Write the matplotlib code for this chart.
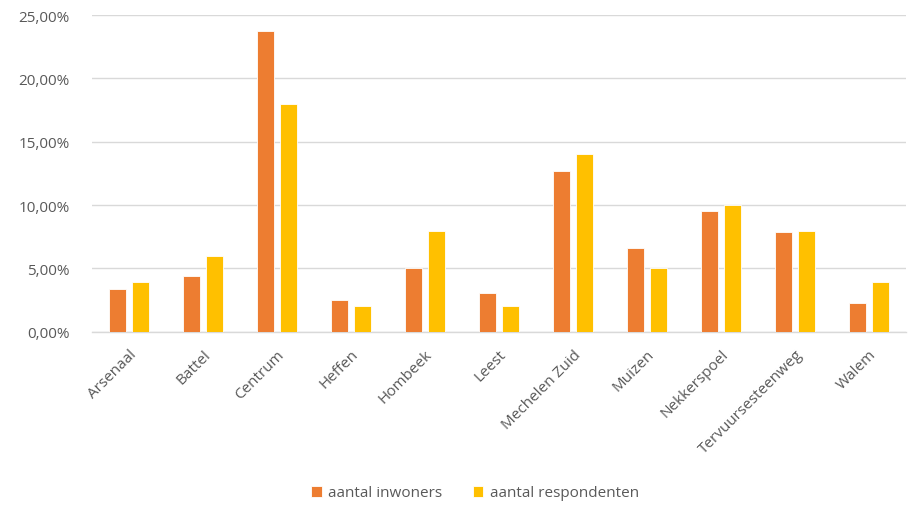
import matplotlib
matplotlib.use("Agg")
import matplotlib.pyplot as plt
import numpy as np
from matplotlib.ticker import FuncFormatter

categories = ["Arsenaal", "Battel", "Centrum", "Heffen", "Hombeek", "Leest",
              "Mechelen Zuid", "Muizen", "Nekkerspoel", "Tervuursesteenweg", "Walem"]
inwoners = [3.4, 4.4, 23.7, 2.5, 5.0, 3.05, 12.65, 6.6, 9.5, 7.9, 2.3]
respondenten = [3.9, 6.0, 18.0, 2.0, 7.95, 2.0, 14.0, 5.0, 10.0, 7.95, 3.9]
series_names = ["aantal inwoners", "aantal respondenten"]
colors = ["#ED7D31", "#FFC000"]
yticks = [0, 5, 10, 15, 20, 25]

plt.rcParams['font.family'] = ['Open Sans', 'DejaVu Sans']

fig = plt.figure(figsize=(9.1, 5.06), dpi=100)
ax = fig.add_axes([92/910, 1 - 332.7/506, (906-92)/910, (332.7-16)/506])

x = np.arange(len(categories))
w = 0.23
off = 0.149
ax.bar(x - off, inwoners, w, color=colors[0], edgecolor="white", linewidth=0.6,
       label=series_names[0], zorder=3)
ax.bar(x + off, respondenten, w, color=colors[1], edgecolor="white", linewidth=0.6,
       label=series_names[1], zorder=3)

ax.set_xlim(-0.5, len(categories) - 0.5)
ax.set_ylim(0, 25)
ax.set_yticks(yticks)
ax.yaxis.set_major_formatter(FuncFormatter(lambda v, p: f"{v:.2f}%".replace(".", ",")))
ax.grid(axis="y", color="#D9D9D9", linewidth=1.0, zorder=0)
for s in ["top", "right", "left"]:
    ax.spines[s].set_visible(False)
ax.spines["bottom"].set_color("#D9D9D9")
ax.spines["bottom"].set_linewidth(1.0)
ax.tick_params(axis="both", length=0, colors="#595959", labelsize=11)
ax.tick_params(axis="y", pad=16)
ax.set_xticks(x)
ax.set_xticklabels(categories, rotation=45, ha="right", rotation_mode="anchor")
for lbl in ax.get_xticklabels():
    lbl.set_transform(lbl.get_transform() + matplotlib.transforms.ScaledTranslation(0/100, -10/100, fig.dpi_scale_trans))

leg = fig.legend(loc="center", bbox_to_anchor=(475/910, 1 - 494/506), ncol=2, frameon=False,
                 fontsize=11, handlelength=0.7, handleheight=0.7, columnspacing=2.0,
                 handletextpad=0.4)
for t in leg.get_texts():
    t.set_color("#595959")

fig.savefig("out.png", dpi=100)
